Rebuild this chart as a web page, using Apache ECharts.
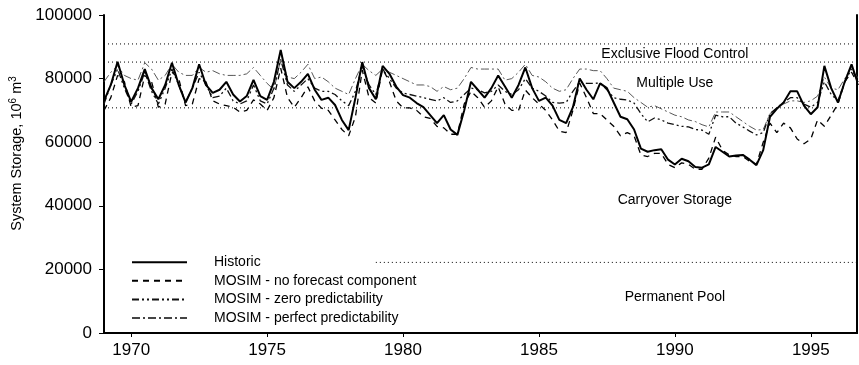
<!DOCTYPE html>
<html>
<head>
<meta charset="utf-8">
<script src="https://cdn.jsdelivr.net/npm/echarts@6/dist/echarts.min.js"></script>
<style>
html, body { margin: 0; padding: 0; background: #fff; }
#chart { width: 859px; height: 365px; }
</style>
</head>
<body>
<div id="chart"></div>
<script>
// quarterly samples starting at 1969.0, values in 1000 x 10^6 m^3
const startYear = 1969
const stepYear = 0.25

const historicK = [
    73, 78, 85.3, 78,   72.7, 77, 83, 77,     73.5, 78, 85, 78,     72.5, 77, 84.5, 78,
    75.5, 76.5, 79, 75, 72.8, 74.5, 79.6, 74.5, 73.3, 79, 89, 79,   77, 79, 81.5, 76.5,
    73.3, 74, 71.7, 67, 63.8, 74, 85.2, 77,   73.5, 84, 81.5, 77.5, 74.8, 74, 72.3, 71,
    68.5, 66, 68.5, 64, 62.3, 70, 79, 76.5,   74, 77, 81, 77.5,     74, 78, 83.5, 77,
    73, 74, 71.5, 67,   66, 71, 80, 76.5,     73.5, 78.5, 77, 72.5, 68, 67.2, 64, 58,
    57, 57.5, 57.8, 54.5, 53, 54.8, 54, 52.2, 52, 53, 58.5, 57,     55.5, 55.8, 56, 54.5,
    52.8, 57.5, 68, 70.5, 72.5, 76, 76, 71.5, 68.8, 71, 84, 77,     72.5, 79, 84.5, 78
]
const noForecastK = [
    70, 74, 81, 79,     71, 71.5, 81, 79,     71, 72, 82, 80,       71.5, 72, 80, 79,
    73, 72, 71.5, 71,   69.5, 70, 73.3, 72,   70, 74, 83.3, 74,     71, 74, 77.4, 73,
    70.7, 70, 67, 64,   62, 68, 82.7, 74,     72.3, 83, 79, 73,     70.8, 70.8, 70, 68,
    67.5, 65, 64.5, 62.5, 62.5, 72, 76, 74,   71, 73, 77.4, 72,     70, 70, 76.4, 74,
    72, 70, 67, 63.5,   63, 70, 78.6, 74,     69, 69, 67, 65,       62, 63, 62, 56,
    55.5, 56.5, 56.5, 53, 52, 53.5, 53, 51.5, 51.5, 55, 61.6, 57.5, 56, 55.5, 55.5, 54,
    53, 60, 66, 63,     66, 64.5, 61, 59.5,   61, 67, 65, 68.5,     72, 79, 82, 78
]
const zeroPredK = [
    72, 78, 83, 77,     72, 76, 82, 76,       72, 77, 83, 78,       72.5, 77, 82, 78,
    74, 74.5, 77, 73,   72, 73, 78, 73,       72, 77, 86, 78,       76, 78, 80, 77,
    76, 76, 75, 73,     71.5, 76, 84, 78,     75, 83, 80, 77,       75.5, 75, 74.5, 74,
    73.5, 73, 74, 72.5, 73, 75, 77, 76.5,     75.5, 76, 78, 76,     75, 76.5, 80, 77,
    76, 74.5, 72.5, 72.3, 72.5, 76, 79, 78.5, 78.5, 78.6, 76.5, 74, 73.5, 73.3, 72.3, 69,
    66.4, 67.6, 67, 66, 65.5, 65, 64.8, 64,   63.8, 62.5, 68.5, 68, 68, 66, 64.8, 63.5,
    62.3, 63, 69, 70.8, 72.5, 74, 74, 72,     71, 72.5, 79, 75,     73, 79, 83, 79
]
const perfectPredK = [
    79, 82, 84, 81,     80, 79.5, 85, 83,     79.5, 81, 84.5, 82,   81, 81, 83.5, 82,
    82.5, 81.5, 81, 81, 81, 81.5, 83.5, 81,   78.5, 76.5, 86, 80.5, 80, 82, 84.5, 80,
    80.5, 79, 77, 76,   75, 80, 84.5, 82.5,   81, 83, 82, 81,       80, 79, 78, 78,
    77.5, 76, 77.5, 76.5, 77, 80, 83.5, 83,   83, 83, 83, 79.5,     80, 82, 84.5, 81,
    80.5, 79, 77, 76,   76.5, 80, 83, 83,     82.5, 82.5, 80, 77,   76.5, 76, 74, 72.5,
    71, 71.5, 70.5, 69.5, 68.5, 68, 67, 66.5, 65.5, 64.8, 69.5, 69.5, 69.5, 68, 66.5, 65,
    63.8, 64, 69, 70.8, 72, 73, 73, 72.5,     73, 74.5, 80.5, 77,   76.5, 80, 83.5, 80
]

const seriesNames = [
    'Historic',
    'MOSIM - no forecast component',
    'MOSIM - zero predictability',
    'MOSIM - perfect predictability'
]

// storage zone boundaries (dotted) and their labels
const zoneLevels = [90900, 85200, 70800, 22200]
const zoneStarts = [1969, 1969, 1969, 1979]
const zoneNames = ['Exclusive Flood Control', 'Multiple Use', 'Carryover Storage', 'Permanent Pool']
const zoneLabelY = [87700, 78700, 41800, 11400]
const zoneLabelX = 1990

const yTicks = [0, 20000, 40000, 60000, 80000, 100000]
const xTicks = [1970, 1975, 1980, 1985, 1990, 1995]
const xMin = 1969
const xMax = 1996.7

const toPairs = (arr) => arr.map((v, i) => [startYear + i * stepYear, v * 1000])

const font = 'Liberation Sans, Arial, Helvetica, sans-serif'

const lineDefs = [
    { data: historicK, width: 2, type: 'solid', color: '#000' },
    { data: noForecastK, width: 1.3, type: [6, 5], color: '#000' },
    { data: zeroPredK, width: 1.3, type: [7, 3, 2, 3, 2, 3], color: '#111' },
    { data: perfectPredK, width: 0.9, type: [8, 3, 2, 3], color: '#444' }
]

const series = lineDefs.map((d, i) => ({
    name: seriesNames[i],
    type: 'line',
    data: toPairs(d.data),
    symbol: 'none',
    z: 10 - i,
    lineStyle: { width: d.width, type: d.type, color: d.color },
    itemStyle: { color: d.color }
}))

zoneLevels.forEach((lvl, i) => {
    series.push({
        type: 'line',
        data: [[zoneStarts[i], lvl], [xMax, lvl]],
        symbol: 'none',
        silent: true,
        z: 1,
        lineStyle: { width: 1, type: [1, 3], color: '#000' }
    })
})

series.push({
    type: 'scatter',
    symbolSize: 0,
    silent: true,
    itemStyle: { opacity: 1 },
    data: zoneNames.map((n, i) => ({ name: n, value: [zoneLabelX, zoneLabelY[i]] })),
    label: {
        show: true,
        position: 'inside',
        formatter: '{b}',
        color: '#000',
        textBorderWidth: 0,
        fontSize: 14,
        fontFamily: font
    }
})

const myChart = echarts.init(document.getElementById('chart'))

const option = {
    animation: false,
    grid: { left: 104, right: 2, top: 15, bottom: 32, outerBoundsMode: 'none' },
    legend: {
        data: seriesNames,
        orient: 'vertical',
        left: 131,
        top: 255.2,
        padding: 0,
        itemWidth: 55,
        itemHeight: 14,
        itemGap: 4.6,
        itemStyle: { opacity: 0 },
        textStyle: { fontSize: 14, fontFamily: font, color: '#000', padding: [0, 0, 0, 22] }
    },
    xAxis: [
        {
            type: 'value',
            min: xMin,
            max: xMax,
            splitLine: { show: false },
            axisLine: { lineStyle: { color: '#000', width: 2 } },
            axisTick: { show: true, length: 4, lineStyle: { color: '#000' }, customValues: xTicks },
            axisLabel: {
                fontSize: 17, fontFamily: font, color: '#000', margin: 9,
                customValues: xTicks, formatter: (v) => String(v)
            }
        },
        {
            type: 'value',
            position: 'top',
            min: xMin,
            max: xMax,
            splitLine: { show: false },
            axisLine: { lineStyle: { color: '#000', width: 2 } },
            axisTick: { show: true, inside: true, length: 4, lineStyle: { color: '#000' }, customValues: xTicks },
            axisLabel: { show: false }
        }
    ],
    yAxis: [
        {
            type: 'value',
            min: 0,
            max: 100000,
            interval: 20000,
            splitLine: { show: false },
            axisLine: { show: true, lineStyle: { color: '#000', width: 2 } },
            axisTick: { show: true, length: 5, lineStyle: { color: '#000' } },
            axisLabel: {
                fontSize: 17, fontFamily: font, color: '#000', margin: 12,
                customValues: yTicks, formatter: (v) => String(v)
            },
            name: '{a|System Storage, 10}{s|6}{a| m}{s|3}',
            nameLocation: 'middle',
            nameGap: 66,
            nameRotate: 90,
            nameTextStyle: {
                padding: [0, 0, 0, 41],
                rich: {
                    a: { fontSize: 14.5, fontFamily: font, color: '#000' },
                    s: { fontSize: 10, fontFamily: font, color: '#000', verticalAlign: 'top', padding: [0, 0, 7, 0] }
                }
            }
        },
        {
            type: 'value',
            position: 'right',
            min: 0,
            max: 100000,
            interval: 20000,
            splitLine: { show: false },
            axisLine: { show: true, lineStyle: { color: '#000', width: 2 } },
            axisTick: { show: false },
            axisLabel: { show: false }
        }
    ],
    series
}

myChart.setOption(option)
</script>
</body>
</html>
